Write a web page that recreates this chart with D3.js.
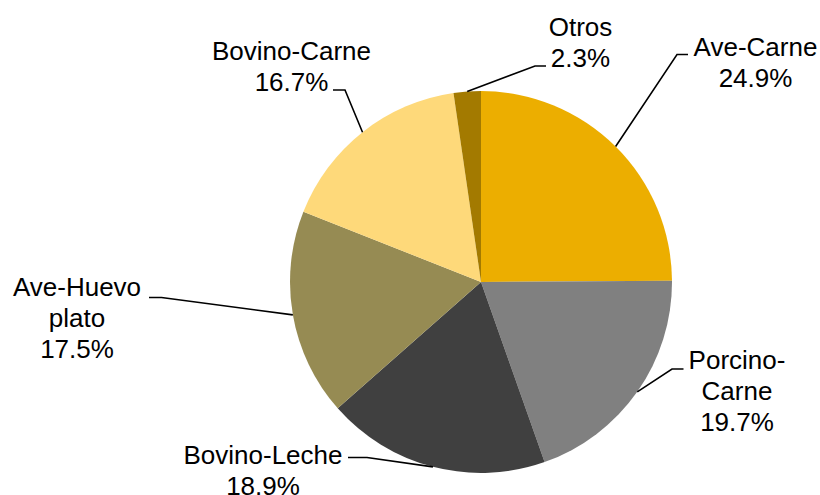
<!DOCTYPE html>
<html>
<head>
<meta charset="utf-8">
<script src="https://cdn.jsdelivr.net/npm/d3@7"></script>
<style>
  html, body { margin: 0; padding: 0; background: #fff; }
  svg { display: block; }
  text { font-family: "Liberation Sans", Arial, sans-serif; font-size: 26px; fill: #000; }
</style>
</head>
<body>
<svg id="chart" width="820" height="495"></svg>
<script>
// ---- data ----
const categories = ["Ave-Carne", "Porcino-Carne", "Bovino-Leche", "Ave-Huevo plato", "Bovino-Carne", "Otros"];
const values = [24.9, 19.7, 18.9, 17.5, 16.7, 2.3];
const valueLabels = ["24.9%", "19.7%", "18.9%", "17.5%", "16.7%", "2.3%"];
const colors = ["#ECAE00", "#808080", "#404040", "#968B53", "#FED97A", "#A37A00"];

// ---- layout (label placement, not data) ----
const labelLines = [["Ave-Carne"], ["Porcino-", "Carne"], ["Bovino-Leche"], ["Ave-Huevo", "plato"], ["Bovino-Carne"], ["Otros"]];
const labelLayout = [
  { elbow: [677, 54.5], end: [688, 54.5], tx: 755.5, ty: 56 },
  { elbow: [672, 369], end: [683.5, 369], tx: 737, ty: 368.5 },
  { elbow: [367, 457.5], end: [348, 457.5], tx: 263, ty: 464 },
  { elbow: [161.5, 297.5], end: [149, 297.5], tx: 77, ty: 296 },
  { elbow: [345, 90], end: [333, 90], tx: 291.5, ty: 60 },
  { elbow: [535, 66], end: [546, 66], tx: 580.5, ty: 36 }
];
const lineHeight = 31;

const cx = 481, cy = 282, r = 191;
const svg = d3.select("#chart");
const g = svg.append("g").attr("transform", `translate(${cx},${cy})`);

const pie = d3.pie().sort(null).value(d => d.value).startAngle(0).endAngle(2 * Math.PI);
const arcs = pie(categories.map((c, i) => ({ name: c, value: values[i], i })));
const arc = d3.arc().innerRadius(0).outerRadius(r);
const color = d3.scaleOrdinal().domain(categories).range(colors);

g.selectAll("path.slice").data(arcs).enter().append("path")
  .attr("class", "slice")
  .attr("d", arc)
  .attr("fill", d => color(d.data.name));

// leader lines
const edgeArc = d3.arc().innerRadius(r).outerRadius(r);
svg.selectAll("polyline.leader").data(arcs).enter().append("polyline")
  .attr("class", "leader")
  .attr("fill", "none")
  .attr("stroke", "#000")
  .attr("stroke-width", 1.6)
  .attr("points", d => {
    const a = (d.startAngle + d.endAngle) / 2;
    const sx = cx + r * Math.sin(a), sy = cy - r * Math.cos(a);
    const L = labelLayout[d.data.i];
    return [[sx, sy], L.elbow, L.end].map(p => p.join(",")).join(" ");
  });

// labels
const labels = svg.selectAll("text.lbl").data(arcs).enter().append("text")
  .attr("class", "lbl")
  .attr("text-anchor", "middle")
  .attr("x", d => labelLayout[d.data.i].tx)
  .attr("y", d => labelLayout[d.data.i].ty);
labels.each(function(d) {
  const t = d3.select(this);
  const L = labelLayout[d.data.i];
  const lines = labelLines[d.data.i].concat([valueLabels[d.data.i]]);
  lines.forEach((s, k) => {
    t.append("tspan").attr("x", L.tx).attr("y", L.ty + k * lineHeight).text(s);
  });
});
</script>
</body>
</html>
